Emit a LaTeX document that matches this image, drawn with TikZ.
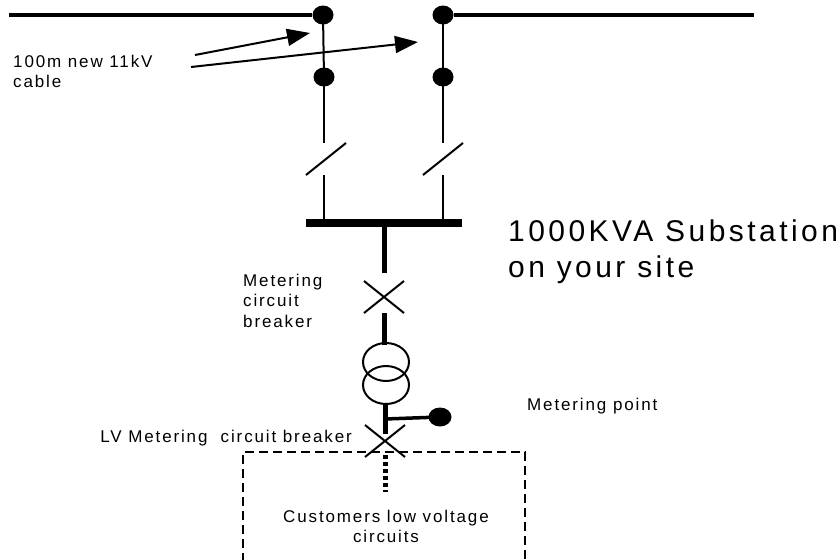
\documentclass[tikz,border=0pt]{standalone}
\usepackage{fontspec}
\setmainfont{Liberation Sans}
\newfontfamily\lblfont[LetterSpace=11]{Liberation Sans}
\newfontfamily\bigfont[LetterSpace=11.5]{Liberation Sans}
\usetikzlibrary{arrows.meta,shapes.geometric}
\begin{document}
\begin{tikzpicture}[x=1pt,y=-1pt,
  dot/.style={ellipse,fill=black,inner sep=0pt,minimum width=21pt,minimum height=19pt},
  bigdot/.style={ellipse,fill=black,inner sep=0pt,minimum width=23pt,minimum height=19pt},
  feeder/.style={line width=3.5pt},
  wire/.style={line width=2pt},
  heavy/.style={line width=5pt},
  lbl/.style={inner sep=0pt,font=\lblfont\fontsize{17}{20}\selectfont},
  ptr/.style={line width=2pt,-{Triangle[length=23pt,width=17pt]}},
  site/.style={line width=2.5pt,dash pattern=on 9pt off 5pt},
  lvdots/.style={line width=5pt,dash pattern=on 4pt off 3pt}
]
\useasboundingbox (0,0) rectangle (839,560);
% feeders
\coordinate (fL) at (9,15);
\coordinate (fR) at (754,15);
\node[dot] (dA) at (323,15) {};
\node[dot] (dB) at (443,15) {};
\draw[feeder] (fL) -- (dA);
\draw[feeder] (dB) -- (fR);
% cable ends
\node[dot] (dA2) at (324,77) {};
\node[dot] (dB2) at (443,77) {};
\draw[wire] (dA.center) -- (dA2.center);
\draw[wire] (dB.center) -- (dB2.center);
% isolators
\coordinate (sA1) at (324,143);
\coordinate (sA2) at (324,175);
\coordinate (bA1) at (306,175);
\coordinate (bA2) at (346,143);
\coordinate (sB1) at (443,143);
\coordinate (sB2) at (443,175);
\coordinate (bB1) at (423,175);
\coordinate (bB2) at (463,143);
\draw[wire] (dA2.center) -- (sA1);
\draw[wire] (dB2.center) -- (sB1);
\draw[wire] (bA1) -- (bA2);
\draw[wire] (bB1) -- (bB2);
% busbar
\node[fill=black,inner sep=0pt,minimum width=156pt,minimum height=8pt] (bus) at (384,223) {};
\draw[wire] (sA2) -- (sA2 |- bus.north);
\draw[wire] (sB2) -- (sB2 |- bus.north);
% metering circuit breaker
\draw[heavy] (bus.south) -- (384,273);
\draw[wire] (364,281) -- (404,313) (364,313) -- (404,281);
\draw[heavy] (384,313) -- (384,345);
% transformer
\node[ellipse,draw,line width=2pt,minimum width=46pt,minimum height=38pt,inner sep=0pt] (t1) at (386,362) {};
\node[ellipse,draw,line width=2pt,minimum width=46pt,minimum height=38pt,inner sep=0pt] (t2) at (386,385) {};
\draw[heavy] (385,403) -- (385,434);
% metering point
\node[bigdot] (mp) at (440,417) {};
\draw[line width=3.5pt] (385,419) -- (mp.center);
% LV breaker
\draw[wire] (365,425) -- (405,457) (365,457) -- (405,425);
% customers box
\draw[site] (243,562) -- (243,452) -- (525,452) -- (525,562);
\draw[lvdots] (385,455) -- (385,492);
% labels
\node[lbl,anchor=north west,align=left,font=\lblfont\fontsize{17}{19.5}\selectfont] (cable) at (13,55) {100m new 11kV\\cable};
\coordinate (c1) at (195,55);
\coordinate (c2) at (191,67);
\coordinate (h1) at (310,33);
\coordinate (h2) at (418,42);
\draw[ptr] (c1) -- (h1);
\draw[ptr] (c2) -- (h2);
\node[inner sep=0pt,anchor=north west,align=left,font=\bigfont\fontsize{30}{36}\selectfont] (sub) at (508,220) {1000KVA Substation\\on your site};
\node[lbl,anchor=north west,align=left,font=\lblfont\fontsize{17}{20.5}\selectfont] (mcb) at (243,273.5) {Metering\\circuit\\breaker};
\node[lbl,anchor=base east] (lvcb) at (352,442) {LV Metering\ \ circuit breaker};
\node[lbl,anchor=base west] (mpl) at (527,410.5) {Metering point};
\node[lbl,anchor=north,align=center] (cust) at (386,510) {Customers low voltage\\circuits};
\end{tikzpicture}
\end{document}
